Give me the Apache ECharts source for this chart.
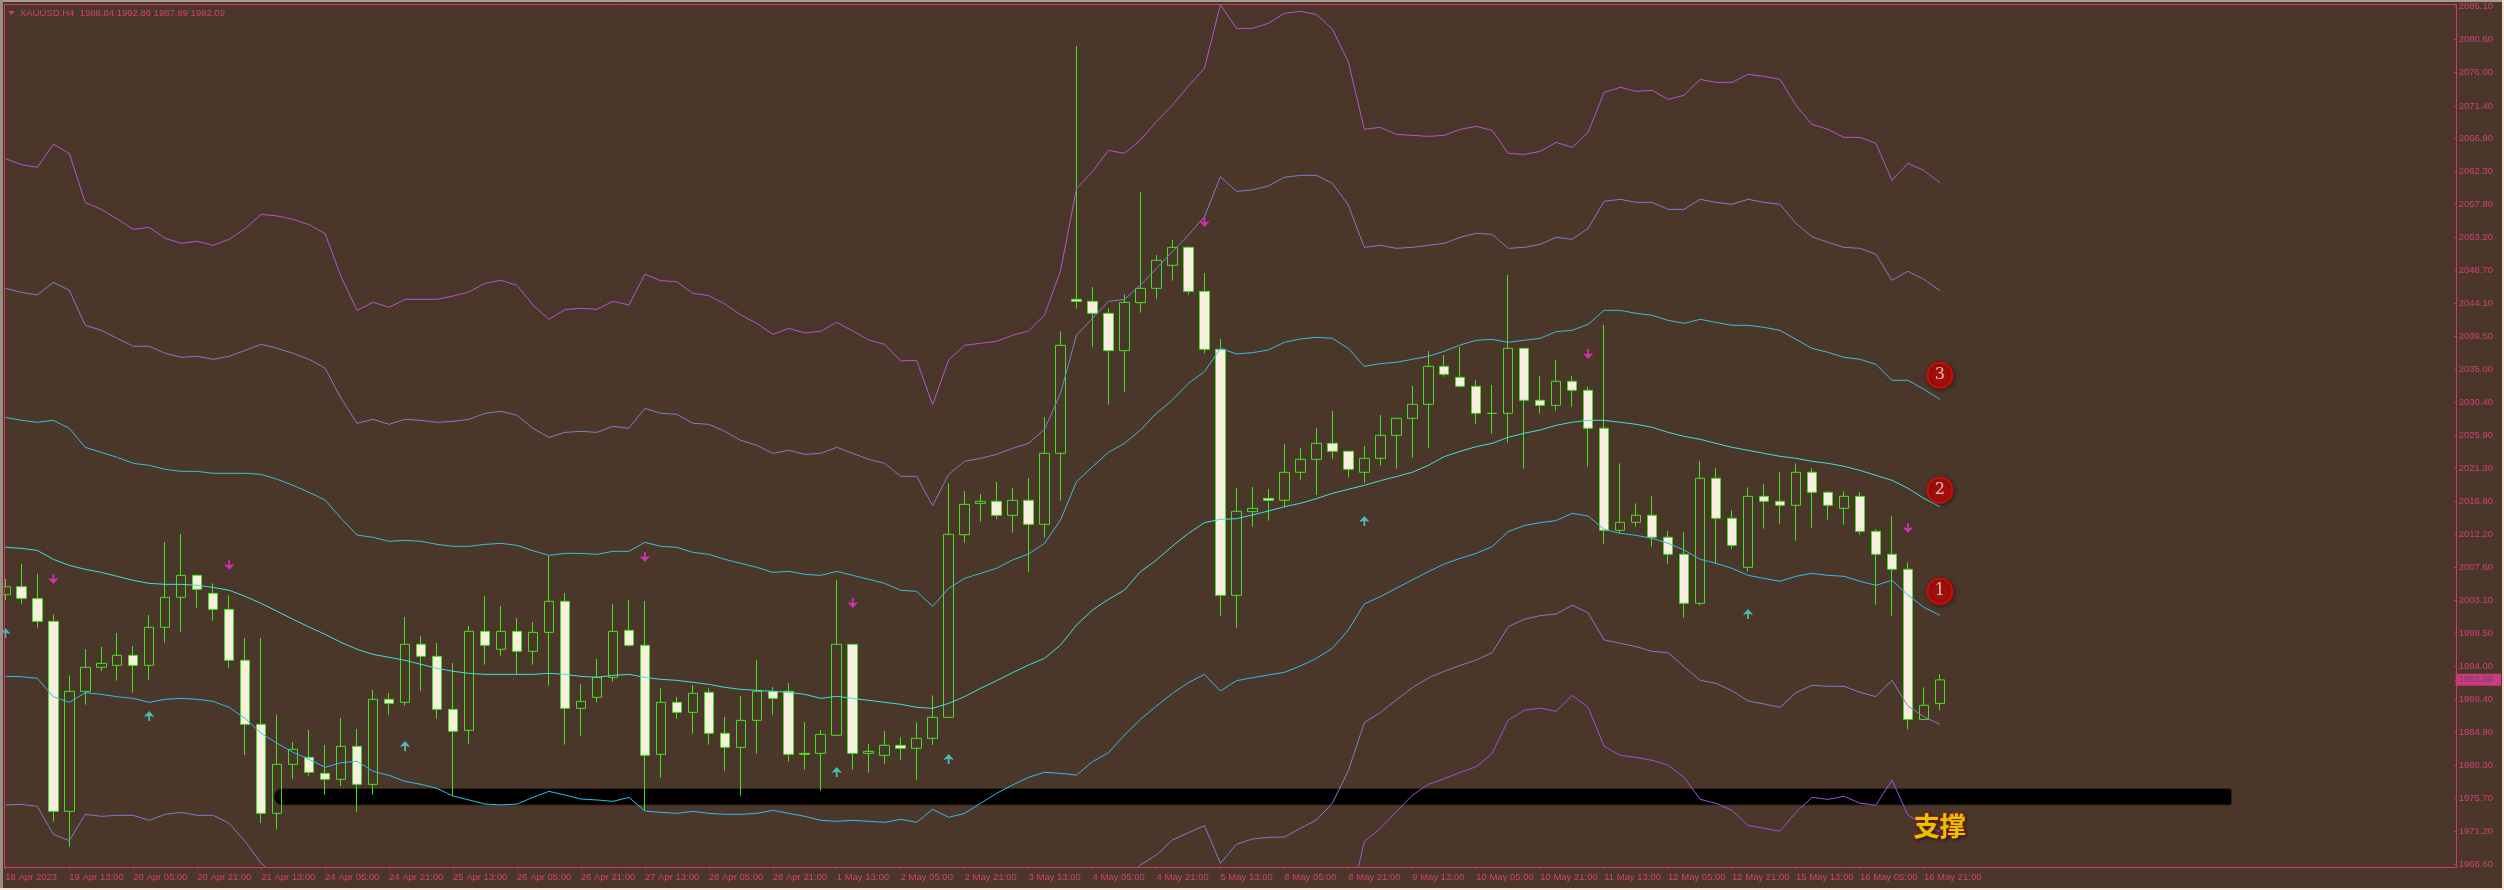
<!DOCTYPE html>
<html>
<head>
<meta charset="utf-8">
<style>
html, body { margin: 0; padding: 0; background: #4a3729; }
#chart { width: 2504px; height: 890px; }
</style>
<script src="https://cdn.jsdelivr.net/npm/echarts@6/dist/echarts.min.js"></script>
</head>
<body>
<div id="chart"></div>
<script>
const chartTitle = 'XAUUSD,H4  1988.84 1992.86 1987.89 1992.09';

const tickLabels = ['18 Apr 2023', '19 Apr 13:00', '20 Apr 05:00', '20 Apr 21:00', '21 Apr 13:00', '24 Apr 05:00', '24 Apr 21:00', '25 Apr 13:00', '26 Apr 05:00', '26 Apr 21:00', '27 Apr 13:00', '28 Apr 05:00', '28 Apr 21:00', '1 May 13:00', '2 May 05:00', '2 May 21:00', '3 May 13:00', '4 May 05:00', '4 May 21:00', '5 May 13:00', '8 May 05:00', '8 May 21:00', '9 May 13:00', '10 May 05:00', '10 May 21:00', '11 May 13:00', '12 May 05:00', '12 May 21:00', '15 May 13:00', '16 May 05:00', '16 May 21:00'];

const priceTicks = [2085.10, 2080.60, 2076.00, 2071.40, 2066.90, 2062.30, 2057.80, 2053.20, 2048.70, 2044.10, 2039.50, 2035.00, 2030.40, 2025.90, 2021.30, 2016.80, 2012.20, 2007.60, 2003.10, 1998.50, 1994.00, 1989.40, 1984.90, 1980.30, 1975.70, 1971.20, 1966.60];
const currentPrice = 1992.09;

const opens = [2003.86, 2004.96, 2003.31, 2000.17, 1973.92, 1990.50, 1993.82, 1994.09, 1995.48, 1994.09, 1999.35, 2003.49, 2006.53, 2004.04, 2001.83, 1994.79, 1985.94, 1973.64, 1980.41, 1981.38, 1979.17, 1978.34, 1982.90, 1977.65, 1989.40, 1988.98, 1997.00, 1995.34, 1988.01, 1985.11, 1998.79, 1996.31, 1998.79, 1996.03, 1998.65, 2002.94, 1988.15, 1989.67, 1992.44, 1998.93, 1996.86, 1981.80, 1988.98, 1987.60, 1990.36, 1984.70, 1982.76, 1986.49, 1990.50, 1990.50, 1981.93, 1981.93, 1984.42, 1997.00, 1981.93, 1981.66, 1983.04, 1982.63, 1984.01, 1986.91, 2012.15, 2016.48, 2016.76, 2014.82, 2016.89, 2013.58, 2023.39, 2044.67, 2044.39, 2042.73, 2037.58, 2044.21, 2046.19, 2049.37, 2051.85, 2045.77, 2037.76, 2003.77, 2015.33, 2017.17, 2016.90, 2020.77, 2022.56, 2024.77, 2023.67, 2020.77, 2022.70, 2025.88, 2028.23, 2030.16, 2035.41, 2033.89, 2032.65, 2028.92, 2028.92, 2037.90, 2030.72, 2030.02, 2033.34, 2032.10, 2026.85, 2012.75, 2013.86, 2014.83, 2011.79, 2009.44, 2002.67, 2019.94, 2014.41, 2007.64, 2017.45, 2016.76, 2016.21, 2020.77, 2018.00, 2015.79, 2017.45, 2012.61, 2009.44, 2007.36, 1986.63, 1988.84];
const closes = [2004.96, 2003.35, 2000.17, 1973.92, 1990.50, 1993.82, 1994.37, 1995.48, 1994.09, 1999.35, 2003.49, 2006.53, 2004.60, 2001.83, 1994.79, 1985.94, 1973.64, 1980.41, 1982.49, 1979.31, 1978.34, 1982.90, 1977.65, 1989.40, 1988.84, 1997.00, 1995.34, 1988.01, 1984.97, 1998.79, 1996.86, 1998.79, 1996.03, 1998.65, 2002.94, 1988.15, 1989.12, 1992.44, 1998.79, 1996.86, 1981.66, 1988.98, 1987.60, 1990.23, 1984.70, 1982.76, 1986.49, 1990.50, 1989.53, 1981.80, 1981.80, 1984.56, 1997.00, 1981.93, 1982.21, 1983.04, 1982.63, 1984.01, 1986.91, 2012.20, 2016.34, 2016.76, 2014.82, 2016.89, 2013.58, 2023.39, 2038.31, 2044.39, 2042.73, 2037.58, 2044.25, 2046.19, 2050.06, 2051.85, 2045.77, 2037.76, 2003.77, 2015.38, 2015.79, 2016.90, 2020.77, 2022.56, 2024.77, 2023.67, 2021.18, 2022.70, 2025.88, 2028.23, 2030.16, 2035.41, 2034.31, 2032.65, 2028.92, 2028.90, 2037.90, 2030.72, 2030.02, 2033.34, 2032.10, 2026.85, 2012.75, 2013.86, 2014.83, 2011.79, 2009.44, 2002.67, 2019.94, 2014.41, 2010.68, 2017.45, 2016.76, 2016.21, 2020.77, 2018.00, 2016.21, 2017.45, 2012.61, 2009.44, 2007.36, 1986.63, 1988.57, 1992.09];
const lows = [2003.12, 2002.62, 1999.30, 1972.49, 1969.04, 1988.66, 1993.31, 1991.98, 1990.32, 1992.11, 1997.23, 1998.75, 2002.06, 2000.27, 1993.77, 1981.70, 1972.31, 1971.39, 1978.43, 1978.85, 1976.22, 1977.42, 1973.87, 1976.22, 1987.28, 1988.52, 1990.59, 1986.72, 1976.08, 1983.27, 1994.19, 1995.43, 1992.85, 1994.19, 1991.28, 1983.13, 1984.38, 1988.94, 1991.84, 1996.67, 1974.01, 1978.57, 1986.72, 1984.65, 1983.13, 1979.54, 1976.08, 1981.89, 1987.28, 1980.78, 1979.68, 1976.78, 1984.42, 1979.68, 1979.26, 1980.51, 1981.06, 1978.30, 1983.09, 1986.91, 2011.04, 2013.95, 2014.31, 2012.43, 2007.04, 2011.73, 2016.85, 2043.38, 2038.13, 2030.11, 2031.91, 2042.83, 2044.76, 2047.25, 2045.31, 2037.21, 2000.96, 1999.30, 2013.26, 2014.09, 2015.93, 2019.75, 2017.63, 2022.65, 2020.03, 2019.34, 2021.69, 2021.27, 2022.79, 2024.17, 2033.99, 2032.51, 2027.49, 2026.11, 2024.87, 2021.27, 2028.87, 2029.29, 2029.84, 2021.55, 2010.91, 2012.34, 2013.26, 2010.50, 2008.15, 2000.69, 2002.34, 2008.19, 2010.22, 2007.04, 2012.98, 2013.67, 2011.32, 2013.12, 2014.23, 2013.54, 2012.15, 2002.48, 2000.96, 1985.25, 1986.63, 1987.89];
const highs = [2006.02, 2008.10, 2006.71, 2001.14, 1992.71, 1996.35, 1996.63, 1998.56, 1996.77, 2001.05, 2011.14, 2012.24, 2006.71, 2005.42, 2003.77, 1997.87, 1997.87, 1987.32, 1983.50, 1985.16, 1983.09, 1986.82, 1985.30, 1990.69, 1990.27, 2000.77, 1998.15, 1997.18, 1994.42, 1999.53, 2003.67, 2002.29, 2000.63, 2000.08, 2009.29, 2004.09, 1991.51, 1994.97, 2002.57, 2003.12, 2002.98, 1990.92, 1989.72, 1991.38, 1990.92, 1986.96, 1989.86, 1994.83, 1991.10, 1991.65, 1986.26, 1985.16, 2005.89, 1997.00, 1983.22, 1985.02, 1984.15, 1986.22, 1989.95, 2019.24, 2018.18, 2017.77, 2019.43, 2018.60, 2019.98, 2028.41, 2040.25, 2079.67, 2046.37, 2043.43, 2045.36, 2059.45, 2050.80, 2052.87, 2052.04, 2048.31, 2039.19, 2018.60, 2018.74, 2018.46, 2024.68, 2024.13, 2026.89, 2029.24, 2023.67, 2024.40, 2028.69, 2028.23, 2032.70, 2037.53, 2036.98, 2038.08, 2033.52, 2032.83, 2048.03, 2037.90, 2034.08, 2036.29, 2034.08, 2032.56, 2041.13, 2022.01, 2016.48, 2017.45, 2012.66, 2012.48, 2022.29, 2021.32, 2015.52, 2018.69, 2019.11, 2020.77, 2022.01, 2021.32, 2018.14, 2018.14, 2018.00, 2012.89, 2014.69, 2008.33, 1991.06, 1992.86];

const bandUp3 = [2064.11, 2063.28, 2062.91, 2066.09, 2064.85, 2058.03, 2057.11, 2055.77, 2054.34, 2054.62, 2053.10, 2052.41, 2052.69, 2052.13, 2052.96, 2054.44, 2056.42, 2056.19, 2055.73, 2054.99, 2053.75, 2047.80, 2043.15, 2044.26, 2043.57, 2044.67, 2044.67, 2044.67, 2045.13, 2045.69, 2046.88, 2047.30, 2046.61, 2043.89, 2041.91, 2043.24, 2043.43, 2043.29, 2044.40, 2043.89, 2048.13, 2047.25, 2047.11, 2045.50, 2045.18, 2044.03, 2042.51, 2041.36, 2039.84, 2040.66, 2040.02, 2040.25, 2041.49, 2040.30, 2039.05, 2038.45, 2036.15, 2036.24, 2030.12, 2036.29, 2038.32, 2038.59, 2038.87, 2039.70, 2040.30, 2042.51, 2048.59, 2060.00, 2062.31, 2065.26, 2064.84, 2066.68, 2069.22, 2071.52, 2074.15, 2076.59, 2085.39, 2082.11, 2082.11, 2082.81, 2084.19, 2084.46, 2084.05, 2082.02, 2077.51, 2068.16, 2068.44, 2067.47, 2067.33, 2067.19, 2067.33, 2068.16, 2068.57, 2068.02, 2064.84, 2064.70, 2065.12, 2066.36, 2065.67, 2067.74, 2073.27, 2073.96, 2073.41, 2073.55, 2072.30, 2072.86, 2075.07, 2074.65, 2074.65, 2075.76, 2075.48, 2075.07, 2071.48, 2068.85, 2068.16, 2067.05, 2067.05, 2066.22, 2061.11, 2063.46, 2062.49, 2060.79];
const bandUp2 = [2046.19, 2045.64, 2045.27, 2047.02, 2045.92, 2041.08, 2040.39, 2039.28, 2038.18, 2038.18, 2037.21, 2036.66, 2036.80, 2036.38, 2036.80, 2037.62, 2038.45, 2037.90, 2037.21, 2036.38, 2035.14, 2030.99, 2027.54, 2028.09, 2027.40, 2028.09, 2027.95, 2027.68, 2027.81, 2028.09, 2028.92, 2029.20, 2028.64, 2026.85, 2025.60, 2026.29, 2026.43, 2026.29, 2027.12, 2026.85, 2029.61, 2028.92, 2028.78, 2027.54, 2027.40, 2026.43, 2025.19, 2024.50, 2023.39, 2023.81, 2023.25, 2023.39, 2024.22, 2023.39, 2022.56, 2022.01, 2020.21, 2020.21, 2016.16, 2020.49, 2022.29, 2022.70, 2023.25, 2024.08, 2024.77, 2026.71, 2031.68, 2039.74, 2042.04, 2044.39, 2044.67, 2046.65, 2048.95, 2051.26, 2053.56, 2056.09, 2061.62, 2059.59, 2059.78, 2060.33, 2061.53, 2061.80, 2061.80, 2060.70, 2057.70, 2051.85, 2052.13, 2051.72, 2051.85, 2052.13, 2052.41, 2053.24, 2053.79, 2053.65, 2051.72, 2051.85, 2052.27, 2053.24, 2052.96, 2054.48, 2058.21, 2058.49, 2058.07, 2058.07, 2057.10, 2057.10, 2058.49, 2058.07, 2057.80, 2058.49, 2058.07, 2057.80, 2055.17, 2053.33, 2052.54, 2051.85, 2051.72, 2050.89, 2047.29, 2048.54, 2047.43, 2045.87];
const bandUp1 = [2028.37, 2027.95, 2027.68, 2027.95, 2026.85, 2024.22, 2023.53, 2022.84, 2022.01, 2021.73, 2021.18, 2020.90, 2020.90, 2020.63, 2020.63, 2020.63, 2020.49, 2019.80, 2018.97, 2018.00, 2016.94, 2014.41, 2012.10, 2011.78, 2011.23, 2011.37, 2011.23, 2010.81, 2010.54, 2010.54, 2010.81, 2010.95, 2010.68, 2009.94, 2009.29, 2009.57, 2009.57, 2009.43, 2009.85, 2009.85, 2011.09, 2010.54, 2010.40, 2009.71, 2009.43, 2008.74, 2008.19, 2007.64, 2006.94, 2007.08, 2006.67, 2006.53, 2007.08, 2006.53, 2005.98, 2005.42, 2004.46, 2004.32, 2002.25, 2004.73, 2006.12, 2006.81, 2007.50, 2008.65, 2009.48, 2010.95, 2014.18, 2019.47, 2021.55, 2023.53, 2024.77, 2026.62, 2028.92, 2030.76, 2033.06, 2034.67, 2037.90, 2037.12, 2037.30, 2037.67, 2038.73, 2039.19, 2039.42, 2039.28, 2037.90, 2035.41, 2035.78, 2035.97, 2036.38, 2036.80, 2037.49, 2038.36, 2039.01, 2039.14, 2038.73, 2039.01, 2039.28, 2040.20, 2040.39, 2041.22, 2043.15, 2043.15, 2042.74, 2042.46, 2041.77, 2041.36, 2041.91, 2041.49, 2041.08, 2041.08, 2040.80, 2040.39, 2039.14, 2037.90, 2037.35, 2036.66, 2036.38, 2035.69, 2033.48, 2033.48, 2032.24, 2030.85];
const bandMid = [2010.40, 2010.26, 2009.98, 2008.74, 2007.91, 2007.36, 2006.94, 2006.39, 2005.84, 2005.42, 2005.29, 2005.29, 2005.15, 2004.87, 2004.46, 2003.63, 2002.66, 2001.56, 2000.45, 1999.39, 1998.38, 1997.27, 1996.31, 1995.61, 1995.20, 1994.79, 1994.23, 1993.68, 1993.27, 1992.99, 1992.85, 1992.85, 1992.85, 1992.85, 1992.99, 1992.85, 1992.57, 1992.44, 1992.71, 1992.85, 1992.44, 1992.16, 1992.02, 1991.75, 1991.47, 1991.05, 1990.78, 1990.64, 1990.50, 1990.36, 1990.09, 1989.53, 1989.81, 1989.53, 1989.26, 1988.98, 1988.71, 1988.29, 1988.15, 1988.84, 1989.76, 1990.92, 1991.97, 1993.08, 1994.14, 1995.06, 1996.90, 1999.67, 2001.74, 2003.21, 2004.50, 2007.04, 2008.65, 2010.58, 2012.33, 2013.81, 2014.27, 2014.36, 2014.87, 2015.42, 2016.02, 2016.48, 2017.12, 2017.86, 2018.42, 2018.97, 2019.61, 2020.17, 2020.77, 2021.73, 2022.93, 2023.67, 2024.31, 2024.77, 2025.60, 2026.16, 2026.62, 2027.26, 2027.68, 2027.95, 2027.95, 2027.68, 2027.40, 2026.99, 2026.29, 2025.74, 2025.33, 2024.77, 2024.22, 2023.81, 2023.39, 2022.98, 2022.70, 2022.29, 2022.01, 2021.60, 2021.04, 2020.35, 2019.66, 2018.56, 2017.17, 2016.02];
const bandDn1 = [1992.57, 1992.53, 1992.30, 1989.76, 1988.98, 1990.32, 1990.09, 1989.76, 1989.53, 1988.98, 1989.40, 1989.53, 1989.40, 1989.12, 1988.29, 1986.77, 1984.70, 1983.32, 1982.07, 1981.11, 1980.00, 1980.64, 1980.83, 1979.45, 1978.89, 1978.07, 1977.65, 1977.10, 1976.04, 1975.49, 1974.93, 1974.80, 1974.93, 1975.85, 1976.68, 1976.18, 1975.62, 1975.49, 1975.30, 1975.85, 1973.97, 1973.78, 1973.64, 1973.92, 1973.64, 1973.51, 1973.51, 1973.64, 1974.06, 1973.64, 1973.23, 1972.68, 1972.54, 1972.68, 1972.54, 1972.40, 1972.82, 1972.40, 1974.20, 1973.09, 1973.64, 1975.03, 1976.41, 1977.56, 1978.62, 1979.31, 1979.17, 1978.94, 1980.78, 1982.03, 1984.47, 1986.63, 1988.47, 1990.22, 1991.70, 1992.85, 1990.55, 1991.97, 1992.39, 1992.76, 1993.13, 1994.00, 1995.06, 1996.45, 1998.98, 2002.57, 2003.59, 2004.74, 2005.89, 2007.04, 2008.10, 2008.88, 2009.57, 2010.49, 2012.57, 2013.40, 2013.81, 2014.09, 2015.10, 2014.73, 2012.89, 2012.34, 2012.06, 2011.65, 2010.96, 2010.03, 2008.75, 2008.19, 2007.50, 2006.53, 2006.12, 2005.71, 2006.40, 2006.81, 2006.53, 2006.40, 2005.71, 2005.15, 2005.84, 2003.82, 2002.11, 2001.01];
// below the visible range between k18 and k69 / before k84, so left empty
const bandDn2 = [1974.80, 1974.89, 1974.61, 1970.74, 1969.87, 1973.51, 1973.23, 1973.37, 1973.37, 1972.68, 1973.51, 1973.78, 1973.37, 1973.37, 1972.26, 1969.77, 1966.73, 1964.90, null, null, null, null, null, null, null, null, null, null, null, null, null, null, null, null, null, null, null, null, null, null, null, null, null, null, null, null, null, null, null, null, null, null, null, null, null, null, null, null, null, null, null, null, null, null, null, null, null, null, null, null, 1964.40, 1966.50, 1967.89, 1969.96, 1970.97, 1971.94, 1966.73, 1969.36, 1970.10, 1970.33, 1970.37, 1971.57, 1972.72, 1975.04, 1979.54, 1986.17, 1987.57, 1989.31, 1991.01, 1992.35, 1993.27, 1994.09, 1994.83, 1995.85, 1999.44, 2000.45, 2000.96, 2001.19, 2002.39, 2001.37, 1997.60, 1997.14, 1996.68, 1996.03, 1995.85, 1993.91, 1992.03, 1991.61, 1990.60, 1989.17, 1988.76, 1988.29, 1990.32, 1991.33, 1991.20, 1991.20, 1990.37, 1989.77, 1992.03, 1988.48, 1987.00, 1985.94];
const bandDn3 = [null, null, null, null, null, null, null, null, null, null, null, null, null, null, null, null, null, null, null, null, null, null, null, null, null, null, null, null, null, null, null, null, null, null, null, null, null, null, null, null, null, null, null, null, null, null, null, null, null, null, null, null, null, null, null, null, null, null, null, null, null, null, null, null, null, null, null, null, null, null, null, null, null, null, null, null, null, null, null, null, null, null, null, null, 1960.10, 1969.77, 1971.55, 1973.88, 1976.13, 1977.66, 1978.44, 1979.30, 1980.09, 1981.93, 1986.51, 1987.88, 1988.19, 1987.75, 1989.94, 1988.29, 1982.90, 1981.66, 1981.38, 1980.97, 1980.30, 1978.61, 1975.59, 1975.03, 1974.06, 1971.97, 1971.58, 1971.17, 1973.80, 1975.85, 1975.57, 1976.00, 1975.05, 1974.75, 1978.25, 1973.41, 1972.12, 1971.11];

const downArrowIdx = [3, 14, 40, 53, 75, 99, 119];
const downArrowPrice = [2006.02, 2007.96, 2009.06, 2002.71, 2055.35, 2037.11, 2013.07];
const upArrowIdx = [0, 9, 25, 52, 59, 85, 109];
const upArrowPrice = [1998.56, 1987.09, 1982.95, 1979.36, 1981.15, 2014.04, 2001.19];

const badgeLabels = ['1', '2', '3'];
const badgePrice = [2004.32, 2018.28, 2034.17];
const badgeIdx = 121;

const supportLevel = 1975.90;
const supportStartIdx = 17;
const supportEndIdx = 139;
const supportLabel = '支撑';
const supportLabelPrice = 1971.89;

const slotCount = 154;
const categories = [];
for (let i = 0; i < slotCount; i++) {
  categories.push(i % 4 === 0 && tickLabels[i / 4] ? tickLabels[i / 4] : '');
}
const hasTick = (i) => i % 4 === 0 && i / 4 < tickLabels.length;

const candleData = opens.map((o, i) => [o, closes[i], lows[i], highs[i]]);

const PINK = '#da3474';
const LABEL = '#d63f78';
const FONT = '"Liberation Sans", sans-serif';
const UP_ARROW = 'path://M5 0 L10 5 L10 6 L7 5 L6 5 L6 10 L4 10 L4 5 L3 5 L0 6 L0 5 Z';
const DOWN_ARROW = 'path://M4 0 L6 0 L6 5 L7 5 L10 4 L10 5 L5 10 L0 5 L0 4 L3 5 L4 5 Z';

function bandSeries(name, data, color) {
  return {
    name: name,
    type: 'line',
    data: data,
    z: 3,
    symbol: 'none',
    connectNulls: false,
    clip: true,
    silent: true,
    lineStyle: { color: color, width: 1 },
    animation: false
  };
}

const chart = echarts.init(document.getElementById('chart'));

chart.setOption({
  animation: false,
  backgroundColor: '#4a3729',
  title: {
    text: chartTitle,
    left: 20,
    top: 8,
    padding: 0,
    textStyle: { color: LABEL, fontSize: 9.5, fontWeight: 'normal', fontFamily: FONT }
  },
  grid: { left: 5.33, top: 4.5, width: 2448, height: 863 },
  xAxis: {
    type: 'category',
    data: categories,
    boundaryGap: false,
    axisLine: { show: false },
    axisTick: { show: true, length: 2, interval: hasTick, lineStyle: { color: PINK } },
    axisLabel: {
      interval: hasTick,
      align: 'left',
      margin: 5,
      color: LABEL,
      fontSize: 9.5,
      fontFamily: FONT
    },
    splitLine: { show: false }
  },
  yAxis: {
    type: 'value',
    position: 'right',
    offset: 3.17,
    min: 1966.16,
    max: 2085.41,
    scale: true,
    axisLine: { show: false },
    axisTick: {
      show: true,
      length: 2,
      customValues: priceTicks.concat(currentPrice),
      lineStyle: { color: PINK }
    },
    axisLabel: {
      margin: 1,
      customValues: priceTicks.concat(currentPrice),
      formatter: (v) => (v === currentPrice ? '{cur|' + v.toFixed(2) + '}' : '{n|' + v.toFixed(2) + '}'),
      rich: {
        n: { color: LABEL, fontSize: 9.5, fontFamily: FONT, padding: [0, 0, 0, 3] },
        cur: {
          color: '#6b4658',
          fontSize: 9.5,
          fontFamily: FONT,
          backgroundColor: '#cc3a82',
          padding: [1, 8, 1, 3]
        }
      }
    },
    splitLine: { show: false }
  },
  series: [
    {
      name: 'support',
      type: 'custom',
      z: 1,
      silent: true,
      data: [[supportStartIdx, supportEndIdx, supportLevel]],
      encode: { x: [0, 1], y: 2 },
      renderItem: (params, api) => {
        const a = api.coord([api.value(0), api.value(2)]);
        const b = api.coord([api.value(1), api.value(2)]);
        return {
          type: 'rect',
          shape: { x: a[0] - 3, y: a[1] - 8.5, width: b[0] - a[0] + 7, height: 16.5, r: [8, 3, 3, 8] },
          style: { fill: '#000', stroke: '#2f241b', lineWidth: 1 }
        };
      }
    },
    {
      name: 'XAUUSD',
      type: 'candlestick',
      z: 2,
      silent: true,
      data: candleData,
      barWidth: 10,
      clip: true,
      itemStyle: {
        color: 'transparent',
        color0: '#faeee2',
        borderColor: '#45e020',
        borderColor0: '#45e020',
        borderColorDoji: '#45e020',
        borderWidth: 1
      }
    },
    bandSeries('up3', bandUp3, '#b455d6'),
    bandSeries('up2', bandUp2, '#7a7dd0'),
    bandSeries('up1', bandUp1, '#3fb9e0'),
    bandSeries('mid', bandMid, '#3fe0de'),
    bandSeries('dn1', bandDn1, '#33baf0'),
    bandSeries('dn2', bandDn2, '#7a7dd0'),
    bandSeries('dn3', bandDn3, '#a050e0'),
    {
      name: 'sell',
      type: 'scatter',
      z: 4,
      silent: true,
      symbol: DOWN_ARROW,
      symbolSize: [9, 10],
      itemStyle: { color: '#f22ed0' },
      data: downArrowIdx.map((k, i) => [k, downArrowPrice[i]])
    },
    {
      name: 'buy',
      type: 'scatter',
      z: 4,
      silent: true,
      symbol: UP_ARROW,
      symbolSize: [9, 10],
      itemStyle: { color: '#45e0d8' },
      data: upArrowIdx.map((k, i) => [k, upArrowPrice[i]])
    },
    {
      name: 'badges',
      type: 'scatter',
      z: 5,
      silent: true,
      symbolSize: 25,
      itemStyle: {
        color: '#bb0b07',
        borderColor: '#ec0705',
        borderWidth: 2,
        shadowColor: 'rgba(0,0,0,0.45)',
        shadowBlur: 4,
        shadowOffsetX: 1,
        shadowOffsetY: 1
      },
      label: {
        show: true,
        position: 'inside',
        formatter: (p) => badgeLabels[p.dataIndex],
        color: '#f6e6d8',
        fontSize: 16,
        fontFamily: '"DejaVu Serif", "Liberation Serif", serif'
      },
      data: badgePrice.map((v) => [badgeIdx, v])
    },
    {
      name: 'supportLabel',
      type: 'scatter',
      z: 6,
      silent: true,
      symbolSize: 1,
      itemStyle: { color: 'transparent' },
      label: {
        show: true,
        position: 'inside',
        formatter: supportLabel,
        color: '#fff200',
        fontSize: 26,
        fontWeight: 'bold',
        fontFamily: '"Noto Sans CJK SC", sans-serif',
        textBorderColor: '#f51c00',
        textBorderWidth: 1.5,
        textShadowColor: 'rgba(0,0,0,0.5)',
        textShadowBlur: 3,
        textShadowOffsetX: 1,
        textShadowOffsetY: 1
      },
      data: [[badgeIdx, supportLabelPrice]]
    }
  ],
  graphic: [
    // plot frame and the window edges of the screenshot
    { type: 'rect', silent: true, z: 10, shape: { x: 4.5, y: 4.5, width: 2452, height: 863 }, style: { fill: 'none', stroke: PINK, lineWidth: 1 } },
    { type: 'rect', silent: true, z: 10, shape: { x: 0, y: 0, width: 2504, height: 2 }, style: { fill: '#a79c8e' } },
    { type: 'rect', silent: true, z: 10, shape: { x: 0, y: 0, width: 3, height: 890 }, style: { fill: '#9a8c7e' } },
    { type: 'rect', silent: true, z: 10, shape: { x: 0, y: 888, width: 2504, height: 2 }, style: { fill: '#f5e6d8' } },
    { type: 'rect', silent: true, z: 10, shape: { x: 2502, y: 0, width: 2, height: 890 }, style: { fill: '#f5e6d8' } },
    { type: 'polygon', silent: true, z: 10, shape: { points: [[8, 11], [15, 11], [11.5, 15]] }, style: { fill: PINK } }
  ]
});
</script>
</body>
</html>
